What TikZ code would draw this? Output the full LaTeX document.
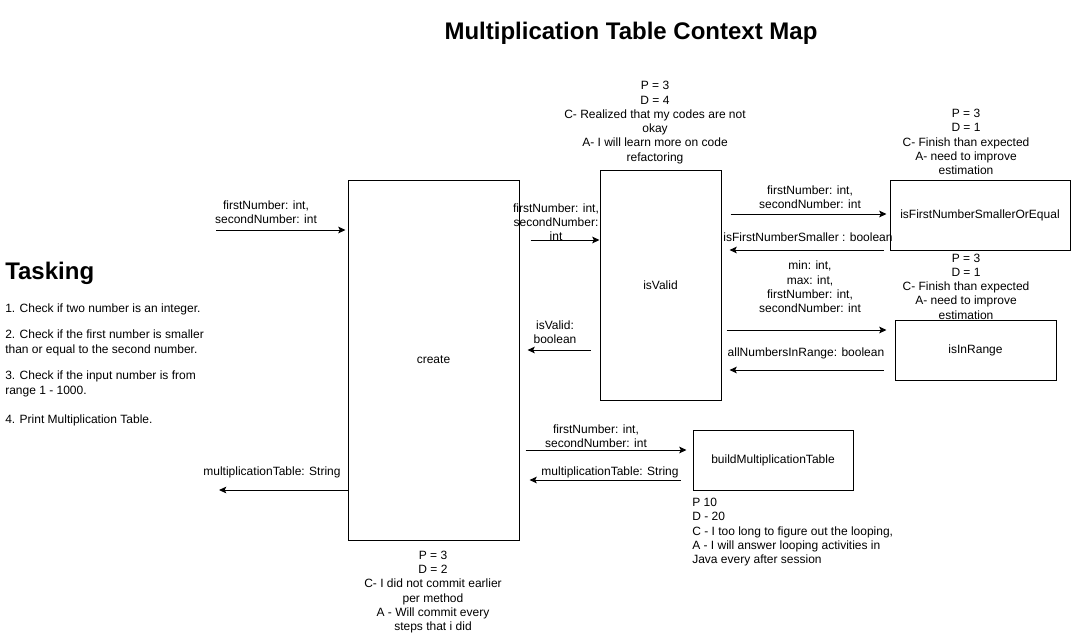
\documentclass[tikz,border=0pt]{standalone}
\usepackage{fontspec}
\setmainfont{Liberation Sans}
\usetikzlibrary{arrows.meta,calc}
\begin{document}
\begin{tikzpicture}[x=0.75pt,y=-0.75pt,
  every node/.style={font=\fontsize{9}{10.7}\selectfont, inner sep=0pt},
  txt/.style={yshift=-1.5pt},
  box/.style={draw=black, line width=0.75pt, align=center},
  lbl/.style={txt, align=center},
  note/.style={txt, align=center},
  arr/.style={line width=0.75pt, -{Stealth[length=5.5pt,width=5pt,inset=1.2pt]}}]
\useasboundingbox (0,0) rectangle (1071,633);
\fill[white] (0,0) rectangle (1071,633);

% title
\node[txt, font=\bfseries\fontsize{18}{21}\selectfont] (title) at (631,31) {Multiplication Table Context Map};

% tasking
\node[txt, font=\bfseries\fontsize{18}{21}\selectfont, anchor=west] (tasking) at (5,271) {Tasking};
\node[txt, anchor=west, align=left] (t1) at (5,307.5) {1. Check if two number is an integer.};
\node[txt, anchor=west, align=left] (t2) at (5,341) {2. Check if the first number is smaller\\than or equal to the second number.};
\node[txt, anchor=west, align=left] (t3) at (5,382) {3. Check if the input number is from\\range 1 - 1000.};
\node[txt, anchor=west, align=left] (t4) at (5,418.5) {4. Print Multiplication Table.};

% boxes
\node[box, minimum width=128.25pt, minimum height=270pt] (create) at (433.5,360) {\raisebox{-1.5pt}{create}};
\node[box, minimum width=90.75pt, minimum height=172.5pt] (isValid) at (660.5,285) {\raisebox{-1.5pt}{isValid}};
\node[box, minimum width=135pt, minimum height=52.5pt] (isFirst) at (980,215) {\raisebox{-1.5pt}{isFirstNumberSmallerOrEqual}};
\node[box, minimum width=120.75pt, minimum height=45pt] (isInRange) at (975.5,350) {\raisebox{-1.5pt}{isInRange}};
\node[box, minimum width=120pt, minimum height=45pt] (build) at (773,460) {\raisebox{-1.5pt}{buildMultiplicationTable}};

% notes
\node[note] (nValid) at (655,120.5) {P = 3\\D = 4\\C- Realized that my codes are not\\okay\\A- I will learn more on code\\refactoring};
\node[note] (nFirst) at (966,140) {P = 3\\D = 1\\C- Finish than expected\\A- need to improve\\estimation};
\node[note] (nRange) at (966,284.5) {P = 3\\D = 1\\C- Finish than expected\\A- need to improve\\estimation};
\node[note] (nCreate) at (433,590) {P = 3\\D = 2\\C- I did not commit earlier\\per method\\A - Will commit every\\steps that i did};
\node[note, align=left, anchor=north west] (nBuild) at (692,496) {P 10\\D - 20\\C - I too long to figure out the looping,\\A - I will answer looping activities in\\Java every after session};

% free ends
\coordinate (inA) at (216,230);
\coordinate (outB) at (219,490);

% arrows
\draw[arr] (inA) -- ($(create.west |- 0,230)+(-2,0)$);
\node[lbl] (l1) at (266,210) {firstNumber: int,\\secondNumber: int};

\draw[arr] ($(create.east |- 0,240)+(11,0)$) -- (isValid.west |- 0,240);
\node[lbl] (l2) at (556,220) {firstNumber: int,\\secondNumber:\\int};

\draw[arr] ($(isValid.west |- 0,350)+(-9,0)$) -- ($(create.east |- 0,350)+(8,0)$);
\node[lbl] (l3) at (555,330) {isValid:\\boolean};

\draw[arr] ($(isValid.east |- 0,214)+(9,0)$) -- ($(isFirst.west |- 0,214)+(-3,0)$);
\node[lbl] (l4) at (810,195) {firstNumber: int,\\secondNumber: int};

\draw[arr] ($(isFirst.west |- 0,250)+(-6,0)$) -- ($(isValid.east |- 0,250)+(8,0)$);
\node[lbl] (l5) at (808,235.5) {isFirstNumberSmaller : boolean};

\draw[arr] ($(isValid.east |- 0,330)+(5,0)$) -- ($(isInRange.west |- 0,330)+(-8,0)$);
\node[lbl] (l6) at (810,285) {min: int,\\max: int,\\firstNumber: int,\\secondNumber: int};

\draw[arr] ($(isInRange.west |- 0,370)+(-11,0)$) -- ($(isValid.east |- 0,370)+(8,0)$);
\node[lbl] (l7) at (806,351) {allNumbersInRange: boolean};

\draw[arr] ($(create.east |- 0,450)+(6,0)$) -- ($(build.west |- 0,450)+(-6,0)$);
\node[lbl] (l8) at (596,434.5) {firstNumber: int,\\secondNumber: int};

\draw[arr] ($(build.west |- 0,480)+(-12,0)$) -- ($(create.east |- 0,480)+(10,0)$);
\node[lbl] (l9) at (610,470.5) {multiplicationTable: String};

\draw[arr] (create.west |- 0,490) -- (outB);
\node[lbl] (l10) at (272,470.5) {multiplicationTable: String};
\end{tikzpicture}
\end{document}
